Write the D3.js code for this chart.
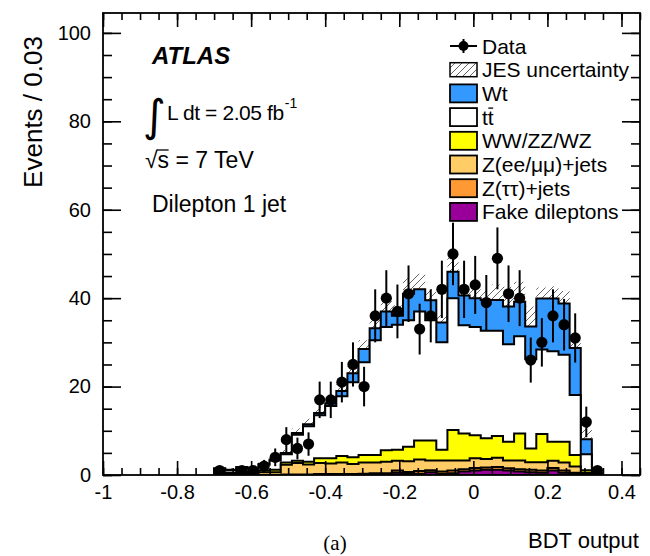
<!DOCTYPE html>
<html>
<head>
<meta charset="utf-8">
<script src="https://cdn.jsdelivr.net/npm/d3@7"></script>
<style>
  html, body { margin: 0; padding: 0; background: #fff; }
  svg text { font-family: "Liberation Sans", Arial, Helvetica, sans-serif; fill: #000; }
</style>
</head>
<body>
<svg id="chart" width="650" height="556"></svg>
<script>
// Histogram binning: 0.03 wide bins starting at -0.70
const binLow = -0.70;
const binWidth = 0.03;

// Observed events per bin
const dataCounts = [1, 0, 1, 1, 2, 4, 8, 6, 7, 17, 17, 21, 25, 20, 36, 40, 37, 41, 33, 36,
                    42, 50, 42, 43, 39, 49, 41, 40, 26, 30, 36, 34, 31, 12, 1];

// Expected events per bin, one array per process
const fake    = [0, 0, 0, 0, 0, 0, 0, 0, 0, 0, 0, 0, 0, 0, 0, 0, 0.5, 0.3, 0.3, 0.6,
                 0.3, 0.4, 0.8, 1.0, 1.2, 1.2, 1.0, 0.8, 0.6, 0.5, 1.0, 0.5, 0.2, 0.1, 0];
const ztautau = [0, 0, 0, 0, 0, 0, 0.1, 0.1, 0.1, 0.2, 0.2, 0.2, 0.2, 0.3, 0.4, 0.4, 0.5, 0.4, 0.6, 0.5,
                 0.5, 0.6, 0.5, 0.6, 0.5, 0.6, 0.5, 0.5, 0.6, 0.5, 0.6, 0.5, 0.3, 0.1, 0];
const zllJets = [0.4, 0.3, 0.5, 0.4, 0.6, 0.6, 2.2, 2.6, 2.3, 2.5, 2.4, 2.6, 2.3, 2.5, 2.4, 2.6, 2.2, 2.4, 2.6, 2.2,
                 2.5, 2.3, 2.0, 2.2, 1.9, 2.1, 1.8, 2.0, 1.7, 1.9, 1.6, 1.8, 1.4, 0.3, 0.1];
const diboson = [0.2, 0.2, 0.2, 0.4, 0.4, 0.6, 0.5, 0.5, 0.6, 1.1, 1.2, 1.5, 1.5, 1.7, 1.7, 2.6, 2.5, 3.3, 4.3, 4.5,
                 2.4, 6.9, 6.1, 5.2, 4.7, 4.9, 4.2, 6.1, 3.1, 6.4, 4.3, 4.7, 2.6, 0.6, 0.1];
const ttbar   = [0.8, 0.6, 1.0, 0.6, 1.3, 2.1, 1.9, 5.9, 8.0, 9.7, 11.8, 13.5, 17.0, 21.0, 26.0, 27.9, 28.3, 28.6, 29.2, 27.2,
                 24.3, 29.8, 24.5, 24.5, 24.3, 23.8, 22.1, 22.0, 20.2, 19.1, 20.5, 19.7, 13.6, 3.6, 0.0];
const wt      = [0.1, 0.1, 0.1, 0.1, 0.2, 0.2, 0.3, 0.4, 0.5, 0.5, 0.6, 1.2, 2.0, 3.0, 2.7, 3.5, 2.0, 6.0, 5.0, 4.5,
                 4.5, 6.0, 6.7, 6.5, 7.0, 7.0, 8.5, 7.8, 7.4, 11.5, 11.9, 11.6, 10.6, 3.4, 0.2];

// Jet energy scale uncertainty on the total expectation
const jesUnc  = [0.3, 0.3, 0.3, 0.3, 0.4, 0.5, 0.7, 1.0, 1.2, 1.4, 1.5, 1.6, 1.8, 2.0, 2.2, 2.4, 2.4, 3.5, 3.5, 2.5,
                 2.0, 3.5, 2.0, 2.0, 2.0, 3.5, 4.5, 4.5, 4.5, 2.5, 2.8, 2.8, 2.0, 2.8, 0.3];

// Axis ticks and labels
const xMajorTicks = [-1, -0.8, -0.6, -0.4, -0.2, 0, 0.2, 0.4];
const xTickLabels = ["-1", "-0.8", "-0.6", "-0.4", "-0.2", "0", "0.2", "0.4"];
const yMajorTicks = [0, 20, 40, 60, 80, 100];

const processKeys   = ["fake", "ztautau", "zll", "diboson", "ttbar", "wt"];
const processColors = {
  fake: "#990099", ztautau: "#ff9933", zll: "#ffcc66",
  diboson: "#ffff00", ttbar: "#ffffff", wt: "#3399ff"
};
const legendRows = [
  { kind: "data",  label: "Data" },
  { kind: "hatch", label: "JES uncertainty" },
  { kind: "wt",      label: "Wt" },
  { kind: "ttbar",   label: "tt" },
  { kind: "diboson", label: "WW/ZZ/WZ" },
  { kind: "zll",     label: "Z(ee/\u03bc\u03bc)+jets" },
  { kind: "ztautau", label: "Z(\u03c4\u03c4)+jets" },
  { kind: "fake",    label: "Fake dileptons" }
];

const svg = d3.select("#chart");
const frame = { left: 103, right: 640, top: 13, bottom: 475 };

const x = d3.scaleLinear().domain([-1, 0.45]).range([frame.left, frame.right]);
const y = d3.scaleLinear().domain([0, 104.5]).range([frame.bottom, frame.top]);

const nBins = dataCounts.length;
const bins = d3.range(nBins).map(i => ({
  lo: binLow + i * binWidth,
  hi: binLow + (i + 1) * binWidth,
  mid: binLow + (i + 0.5) * binWidth,
  fake: fake[i], ztautau: ztautau[i], zll: zllJets[i],
  diboson: diboson[i], ttbar: ttbar[i], wt: wt[i],
  data: dataCounts[i], unc: jesUnc[i]
}));

const series = d3.stack().keys(processKeys)(bins);
const totals = bins.map((b, i) => series[series.length - 1][i][1]);

// Step outline of a binned quantity (ROOT histogram style)
function stepPoints(vals) {
  const pts = [[x(bins[0].lo), y(0)]];
  vals.forEach((v, i) => {
    pts.push([x(bins[i].lo), y(v)]);
    pts.push([x(bins[i].hi), y(v)]);
  });
  pts.push([x(bins[nBins - 1].hi), y(0)]);
  return pts;
}
const line = d3.line();

const defs = svg.append("defs");
defs.append("clipPath").attr("id", "plotClip")
  .append("rect")
  .attr("x", frame.left).attr("y", frame.top)
  .attr("width", frame.right - frame.left).attr("height", frame.bottom - frame.top);

const hatch = defs.append("pattern")
  .attr("id", "jesHatch").attr("patternUnits", "userSpaceOnUse")
  .attr("width", 7).attr("height", 7);
hatch.append("path").attr("d", "M-1,8 L8,-1 M-1,1 L1,-1 M6,8 L8,6")
  .attr("stroke", "#555").attr("stroke-width", 0.9).attr("fill", "none");

const plot = svg.append("g").attr("clip-path", "url(#plotClip)");

// JES uncertainty band around the total expectation
const bandArea = d3.area()
  .x(d => d[0]).y0(d => d[1]).y1(d => d[2]);
const bandPts = [];
bins.forEach((b, i) => {
  bandPts.push([x(b.lo), y(Math.max(0, totals[i] - b.unc)), y(totals[i] + b.unc)]);
  bandPts.push([x(b.hi), y(Math.max(0, totals[i] - b.unc)), y(totals[i] + b.unc)]);
});
plot.append("path").attr("d", bandArea(bandPts))
  .attr("fill", "url(#jesHatch)").attr("stroke", "none");

// Stacked expectation: draw the cumulative histograms from the top down
for (let s = series.length - 1; s >= 0; s--) {
  const key = processKeys[s];
  const cum = series[s].map(d => d[1]);
  plot.append("path")
    .attr("d", line(stepPoints(cum)) + "Z")
    .attr("fill", processColors[key])
    .attr("stroke", "#000")
    .attr("stroke-width", 2)
    .attr("stroke-linejoin", "miter");
}

// Data points with Poisson error bars
const pts = plot.append("g");
bins.filter(b => b.data > 0).forEach(b => {
  const err = Math.sqrt(b.data);
  pts.append("line")
    .attr("x1", x(b.mid)).attr("x2", x(b.mid))
    .attr("y1", y(b.data - err)).attr("y2", y(b.data + err))
    .attr("stroke", "#000").attr("stroke-width", 2);
  pts.append("circle")
    .attr("cx", x(b.mid)).attr("cy", y(b.data)).attr("r", 5.6)
    .attr("fill", "#000");
});

// Axes: ticks on all four sides, pointing inwards
const xMinor = d3.range(-1, 0.4501, 0.05).map(v => +v.toFixed(2));
const yMinor = d3.range(0, 100.01, 5);

function styleAxis(g) {
  g.selectAll(".domain").remove();
  g.selectAll(".tick line").attr("stroke", "#000").attr("stroke-width", 1.6);
}

svg.append("g").attr("transform", `translate(0,${frame.bottom})`)
  .call(d3.axisBottom(x).tickValues(xMinor).tickSize(-7).tickFormat(""))
  .call(styleAxis);
svg.append("g").attr("transform", `translate(0,${frame.bottom})`)
  .call(d3.axisBottom(x).tickValues(xMajorTicks).tickSize(-14).tickPadding(10)
    .tickFormat((d, i) => xTickLabels[i]))
  .call(styleAxis)
  .call(g => g.selectAll("text").attr("font-size", 20).attr("font-family", '"Liberation Sans", Arial, sans-serif'));
svg.append("g").attr("transform", `translate(0,${frame.top})`)
  .call(d3.axisTop(x).tickValues(xMinor).tickSize(-7).tickFormat(""))
  .call(styleAxis);
svg.append("g").attr("transform", `translate(0,${frame.top})`)
  .call(d3.axisTop(x).tickValues(xMajorTicks).tickSize(-14).tickFormat(""))
  .call(styleAxis);

svg.append("g").attr("transform", `translate(${frame.left},0)`)
  .call(d3.axisLeft(y).tickValues(yMinor).tickSize(-9).tickFormat(""))
  .call(styleAxis);
svg.append("g").attr("transform", `translate(${frame.left},0)`)
  .call(d3.axisLeft(y).tickValues(yMajorTicks).tickSize(-18).tickPadding(12).tickFormat(d3.format("d")))
  .call(styleAxis)
  .call(g => g.selectAll("text").attr("font-size", 20).attr("font-family", '"Liberation Sans", Arial, sans-serif'));
svg.append("g").attr("transform", `translate(${frame.right},0)`)
  .call(d3.axisRight(y).tickValues(yMinor).tickSize(-9).tickFormat(""))
  .call(styleAxis);
svg.append("g").attr("transform", `translate(${frame.right},0)`)
  .call(d3.axisRight(y).tickValues(yMajorTicks).tickSize(-18).tickFormat(""))
  .call(styleAxis);

svg.append("rect")
  .attr("x", frame.left).attr("y", frame.top)
  .attr("width", frame.right - frame.left).attr("height", frame.bottom - frame.top)
  .attr("fill", "none").attr("stroke", "#000").attr("stroke-width", 1.8);

// Axis titles
svg.append("text")
  .attr("transform", "translate(42,112) rotate(-90)")
  .attr("text-anchor", "middle").attr("font-size", 26)
  .text("Events / 0.03");
svg.append("text")
  .attr("x", 528).attr("y", 548).attr("font-size", 22)
  .text("BDT output");
svg.append("text")
  .attr("x", 335).attr("y", 550).attr("text-anchor", "middle")
  .attr("font-size", 21).style("font-family", '"Liberation Serif", "Times New Roman", serif')
  .text("(a)");

// Experiment and selection labels
svg.append("text")
  .attr("x", 152).attr("y", 64).attr("font-size", 24)
  .attr("font-weight", "bold").attr("font-style", "italic")
  .text("ATLAS");
svg.append("text")
  .attr("x", 143).attr("y", 131).attr("font-size", 44)
  .style("font-family", '"DejaVu Sans", sans-serif')
  .text("\u222b");
const lumiText = svg.append("text")
  .attr("x", 167).attr("y", 120).attr("font-size", 21).attr("letter-spacing", -0.4)
  .text("L dt = 2.05 fb");
svg.append("text")
  .attr("x", 167 + lumiText.node().getComputedTextLength() + 1).attr("y", 108).attr("font-size", 14)
  .text("-1");
svg.append("text")
  .attr("x", 145).attr("y", 168).attr("font-size", 23)
  .text("\u221as = 7 TeV");
svg.append("text")
  .attr("x", 152).attr("y", 212).attr("font-size", 23)
  .text("Dilepton 1 jet");

// Legend
const legend = svg.append("g");
const legY0 = 46, legStep = 23.7, boxX = 450, boxW = 27, boxH = 18, textX = 482;
legendRows.forEach((row, i) => {
  const cy = legY0 + i * legStep;
  if (row.kind === "data") {
    legend.append("line").attr("x1", boxX).attr("x2", boxX + boxW)
      .attr("y1", cy).attr("y2", cy).attr("stroke", "#000").attr("stroke-width", 2);
    legend.append("line").attr("x1", boxX + boxW / 2).attr("x2", boxX + boxW / 2)
      .attr("y1", cy - 7).attr("y2", cy + 7).attr("stroke", "#000").attr("stroke-width", 2);
    legend.append("circle").attr("cx", boxX + boxW / 2).attr("cy", cy).attr("r", 5)
      .attr("fill", "#000");
  } else if (row.kind === "hatch") {
    legend.append("rect").attr("x", boxX).attr("y", cy - boxH / 2 + 2)
      .attr("width", boxW).attr("height", boxH - 4)
      .attr("fill", "url(#jesHatch)").attr("stroke", "#000").attr("stroke-width", 1.5);
  } else {
    legend.append("rect").attr("x", boxX).attr("y", cy - boxH / 2)
      .attr("width", boxW).attr("height", boxH)
      .attr("fill", processColors[row.kind]).attr("stroke", "#000").attr("stroke-width", 1.8);
  }
  const t = legend.append("text").attr("x", textX).attr("y", cy + 7.5)
    .attr("font-size", 21).text(row.label);
  if (row.kind === "ttbar") {
    // bar over the second t
    const full = t.node().getComputedTextLength();
    const first = full / 2;
    legend.append("line")
      .attr("x1", textX + first + 0.5).attr("x2", textX + full - 0.5)
      .attr("y1", cy - 9).attr("y2", cy - 9)
      .attr("stroke", "#000").attr("stroke-width", 1.3);
  }
});

// Overline of the radical in sqrt(s)
{
  const tmp = svg.append("text").attr("font-size", 23).attr("x", -100).attr("y", -100).text("\u221a");
  const w = tmp.node().getComputedTextLength();
  tmp.remove();
  svg.append("line")
    .attr("x1", 145 + w - 1).attr("x2", 145 + w + 11)
    .attr("y1", 150).attr("y2", 150)
    .attr("stroke", "#000").attr("stroke-width", 1.3);
}
</script>
</body>
</html>
